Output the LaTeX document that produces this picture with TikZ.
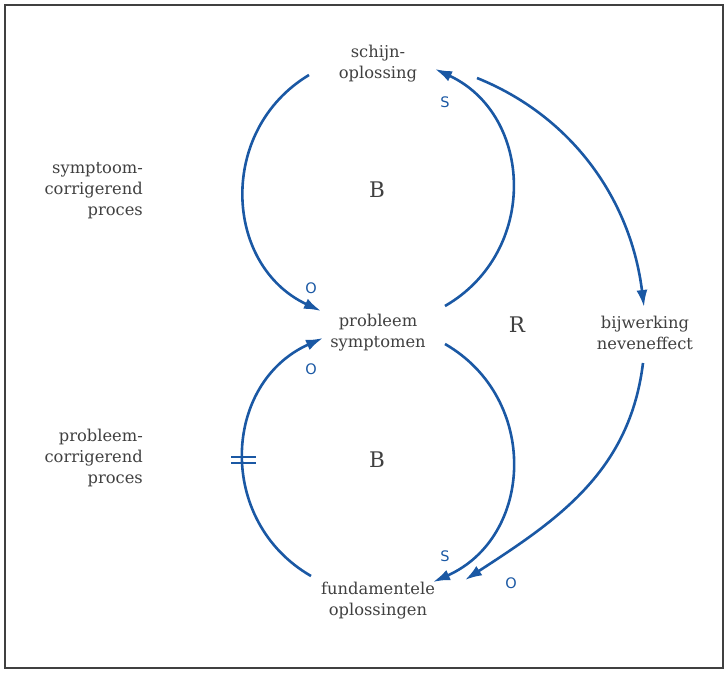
\documentclass[tikz,border=0pt]{standalone}
\usepackage{fontspec}
\setmainfont{DejaVu Serif}
\newfontfamily\labelfont{DejaVu Sans}
\usepackage{xcolor}
\usetikzlibrary{arrows.meta, math}
\definecolor{myblue}{RGB}{26, 88, 164}
\definecolor{mygray}{RGB}{64, 64, 64}

\begin{document}
\begin{tikzpicture}[x=1pt, y=1pt,
  txt/.style={inner sep=0, align=center, text=mygray, font=\fontsize{16.3}{21}\selectfont},
  side/.style={txt, align=right, anchor=east},
  loopname/.style={inner sep=0, text=mygray, font=\fontsize{21.5}{24}\selectfont},
  pol/.style={inner sep=0, text=myblue, font=\labelfont\fontsize{14.5}{16}\selectfont},
  link/.style={-{Latex[length=17pt, width=11pt]}, line width=2.6, color=myblue},
  bar/.style={line width=2.6, color=myblue},
]
\tikzmath{
\cx=378;
\yt=483;
\yb=213;
}
\useasboundingbox (0,0) rectangle (728,673);
\draw[line width=1.5, color=black!75] (5,5) rectangle (723,668);

% variables
\node[txt] (opl) at (\cx,609) {schijn-\\oplossing};
\node[txt] (sym) at (\cx,340) {probleem\\symptomen};
\node[txt] (fund) at (\cx,72) {fundamentele\\oplossingen};
\node[txt] (bij) at (645,340) {bijwerking\\neveneffect};

% processes
\node[side] (sproc) at (143,482) {symptoom-\\corrigerend\\proces};
\node[side] (pproc) at (143,215) {probleem-\\corrigerend\\proces};

% loops
\node[loopname] (Btop) at (377,\yt) {B};
\node[loopname] (Bbot) at (377,\yb) {B};
\node[loopname] (R) at (517,348) {R};

% polarities
\node[pol] (s1) at (445,571) {S};
\node[pol] (o1) at (311,385) {O};
\node[pol] (o2) at (311,304) {O};
\node[pol] (s2) at (445,117) {S};
\node[pol] (o3) at (511,90) {O};

% top loop
\draw[link] ([shift={(-69,-11)}]opl.center) to[out=211, in=155, looseness=1.16] ([shift={(-57,22)}]sym.center);
\draw[link] ([shift={(67,27)}]sym.center) to[out=30, in=-25, looseness=1.17] ([shift={(57,-5)}]opl.center);

% bottom loop
\draw[link] ([shift={(-67,25)}]fund.center) to[out=150, in=204, looseness=1.18] ([shift={(-55,-5)}]sym.center);
\draw[link] ([shift={(67,-11)}]sym.center) to[out=-30, in=24, looseness=1.18] ([shift={(55,19)}]fund.center);
\draw[bar] ([shift={(-146,3)}]Bbot.center) -- ++(25,0);
\draw[bar] ([shift={(-146,-3)}]Bbot.center) -- ++(25,0);

% side effect
\draw[link] ([shift={(99,-14)}]opl.center) to[out=-22, in=97, looseness=0.95] ([shift={(-1,26)}]bij.center);
\draw[link] ([shift={(-2,-30)}]bij.center) to[out=-97, in=33] ([shift={(87,21)}]fund.center);
\end{tikzpicture}
\end{document}
